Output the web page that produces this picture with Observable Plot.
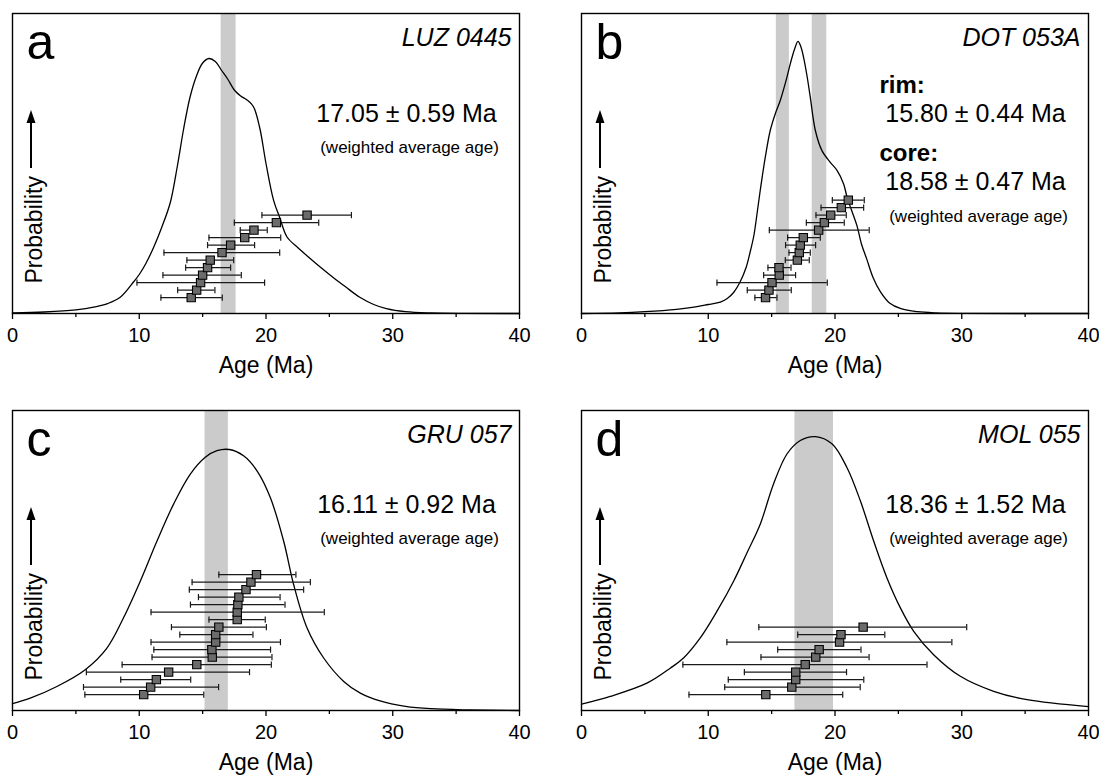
<!DOCTYPE html>
<html><head><meta charset="utf-8">
<script src="https://cdn.jsdelivr.net/npm/d3@7"></script>
<script src="https://cdn.jsdelivr.net/npm/@observablehq/plot@0.6"></script>
<style>
html,body{margin:0;padding:0;background:#fff;overflow:hidden}
#root{position:relative;width:1099px;height:777px;overflow:hidden;background:#fff}
.panel{position:absolute}
</style></head><body><div id="root"></div>
<script>
const FONT = "'Liberation Sans', Arial, Helvetica, sans-serif";

// ---------- axis ticks ----------
const ageTicks = [0, 10, 20, 30, 40];
const minorTicks = [5, 15, 25, 35];
const xLabel = "Age (Ma)";
const yLabel = "Probability";

// ---------- panel a : LUZ 0445 ----------
const aCurveAge = [0,2.5,5,6.5,7.5,8.5,9.55,10,10.5,11.13,11.8,12.45,13,13.5,14,14.5,15,15.5,16,16.5,17,17.5,18,18.5,19,19.5,20,20.6,21.08,21.66,22.5,23.3,24.3,25.3,26.3,27.4,28.5,29.5,31,33,40];
const aCurveP   = [0.002,0.005,0.012,0.022,0.033,0.054,0.105,0.13,0.165,0.22,0.29,0.37,0.49,0.615,0.72,0.79,0.835,0.85,0.84,0.81,0.78,0.745,0.725,0.712,0.69,0.62,0.5,0.377,0.32,0.255,0.22,0.19,0.154,0.12,0.088,0.054,0.03,0.016,0.006,0.002,0];
const aAge = [14.1,14.53,14.84,15.0,15.39,15.6,16.53,17.21,18.32,19.05,20.82,23.24];
const aLo  = [11.71,13.03,9.82,11.87,13.66,13.76,11.95,15.39,15.5,17.97,17.5,19.68];
const aHi  = [16.55,15.97,19.89,18.05,17.21,17.45,21.08,19.1,21.16,20.1,24.16,26.74];
const aBandLo = [16.46];
const aBandHi = [17.64];

// ---------- panel b : DOT 053A ----------
const bCurveAge = [0,3,5,7.5,9,10,10.95,11.5,12,12.5,13,13.3,13.6,13.84,14.1,14.5,14.89,15.29,15.68,16.21,16.47,16.8,17.08,17.3,17.52,17.8,18.05,18.45,18.97,19.63,20.16,20.68,20.95,21.3,21.73,22.1,22.5,23,23.6,24.3,25.2,26.5,28,30,40];
const bCurveP   = [0,0.002,0.006,0.014,0.022,0.03,0.038,0.05,0.07,0.104,0.155,0.204,0.26,0.33,0.41,0.521,0.61,0.666,0.71,0.788,0.832,0.88,0.907,0.89,0.854,0.79,0.721,0.61,0.543,0.504,0.477,0.432,0.388,0.345,0.293,0.23,0.182,0.12,0.071,0.035,0.016,0.006,0.002,0.0005,0];
const bAge = [14.52,14.79,15.03,15.6,15.58,17.03,17.18,17.26,17.5,18.71,19.16,19.66,20.5,21.05];
const bLo  = [13.68,13.08,10.69,14.37,14.71,16.08,16.37,16.1,16.26,14.82,17.74,18.5,18.9,19.79];
const bHi  = [15.42,16.55,19.39,16.89,16.53,17.97,18.05,18.47,18.84,22.7,20.73,20.89,22.26,22.31];
const bBandLo = [15.37, 18.2];
const bBandHi = [16.4, 19.35];

// ---------- panel c : GRU 057 ----------
const cCurveAge = [0,1.4,3.5,5.74,7.45,8.76,10.08,11.4,12.71,14.03,15.21,16.13,17.1,18.23,19.29,20.34,21.39,22.18,23.24,24.55,26.13,27.44,29,31,33,36,40];
const cCurveP   = [0.023,0.041,0.08,0.136,0.208,0.309,0.431,0.565,0.688,0.788,0.844,0.866,0.87,0.849,0.799,0.71,0.565,0.42,0.275,0.175,0.097,0.058,0.032,0.014,0.006,0.002,0];
const cAge = [10.35,10.9,11.35,12.32,14.54,15.76,15.73,16.03,16.03,16.28,17.73,17.73,17.78,17.86,18.42,18.81,19.25];
const cLo  = [5.71,5.6,8.54,5.83,8.65,11.01,11.15,10.93,13.2,12.54,15.5,10.93,14.04,14.67,13.95,14.17,16.28];
const cHi  = [15.09,16.26,14.06,18.7,20.42,20.47,20.36,21.14,18.97,20.03,19.94,24.6,21.5,21.11,22.97,23.5,22.36];
const cBandLo = [15.19];
const cBandHi = [17.03];

// ---------- panel d : MOL 055 ----------
const dCurveAge = [0,2.27,5.16,7,8.05,9.37,10.69,12,13.05,14.1,15.15,16.21,17.26,18.45,19.76,20.94,22,23.05,24.1,25.16,26.21,27.78,29.89,32.52,35.15,40];
const dCurveP   = [0.021,0.047,0.091,0.141,0.175,0.242,0.331,0.431,0.525,0.621,0.755,0.855,0.9,0.913,0.889,0.81,0.699,0.565,0.442,0.342,0.264,0.186,0.114,0.064,0.036,0.013];
const dAge = [14.54,16.59,16.9,16.9,17.65,18.48,18.75,20.36,20.47,22.22];
const dLo  = [8.48,11.3,11.58,12.85,8.0,14.16,15.48,11.47,17.06,13.99];
const dHi  = [20.61,21.99,22.27,20.91,27.26,22.69,22.05,29.22,23.93,30.39];
const dBandLo = [16.84];
const dBandHi = [19.88];

// ---------- texts ----------
const panelLetters = ["a", "b", "c", "d"];
const sampleNames = ["LUZ 0445", "DOT 053A", "GRU 057", "MOL 055"];
const waLabel = "(weighted average age)";

// ---------- layout constants ----------
const ROW_BASE = 0.053, ROW_STEP = 0.025;
const W = 530, MT = 13, ML = 12, MR = 11, MB = 72;

const capSymbol = { draw(ctx, size) { const h = Math.sqrt(size / Math.PI); ctx.moveTo(0, -h); ctx.lineTo(0, h); } };

function arrowMark() {
  return (index, scales, values, dims) => {
    const g = d3.create("svg:g");
    const x = dims.marginLeft + 19, yb = dims.marginTop + 155, yt = dims.marginTop + 97;
    g.append("line").attr("x1", x).attr("x2", x).attr("y1", yb).attr("y2", yt + 8)
      .attr("stroke", "#000").attr("stroke-width", 2);
    g.append("path").attr("d", `M${x},${yt}L${x - 4.5},${yt + 13}L${x + 4.5},${yt + 13}Z`).attr("fill", "#000");
    return g.node();
  };
}

function note(text, anchor, dx, dy, ta, size, extra = {}) {
  return Plot.text([text], {frameAnchor: anchor, dx, dy, textAnchor: ta, lineAnchor: "bottom",
    fontSize: size, fill: "#000", fontFamily: FONT, ...extra});
}

function panel(left, top, cfg) {
  const curve = cfg.curveAge.map((a, i) => ({age: a, p: cfg.curveP[i]}));
  const pts = cfg.age.map((a, i) => ({age: a, lo: cfg.lo[i], hi: cfg.hi[i], row: i}));
  const bands = cfg.bandLo.map((l, i) => ({lo: l, hi: cfg.bandHi[i]}));
  const rowY = d => ROW_BASE + d.row * ROW_STEP;
  const chart = Plot.plot({
    width: W, height: MT + 300 + MB,
    marginLeft: ML, marginRight: MR, marginTop: MT, marginBottom: MB,
    x: {domain: [0, 40]},
    y: {domain: [0, 1], axis: null},
    style: {fontFamily: FONT, background: "transparent", overflow: "visible", color: "#000"},
    marks: [
      Plot.rect(bands, {x1: "lo", x2: "hi", fill: "#cbcbcb"}),
      Plot.line(curve, {x: "age", y: "p", stroke: "#000", strokeWidth: 1.3, curve: "catmull-rom"}),
      Plot.ruleY(pts, {y: rowY, x1: "lo", x2: "hi", stroke: "#1a1a1a", strokeWidth: 1.2}),
      Plot.dot(pts, {x: "lo", y: rowY, symbol: capSymbol, r: 3.1, stroke: "#1a1a1a", strokeWidth: 1.2, fill: "none"}),
      Plot.dot(pts, {x: "hi", y: rowY, symbol: capSymbol, r: 3.1, stroke: "#1a1a1a", strokeWidth: 1.2, fill: "none"}),
      Plot.dot(pts, {x: "age", y: rowY, symbol: "square", r: 4.7, fill: "#6b6b6b", stroke: "#000", strokeWidth: 1.1}),
      Plot.frame({stroke: "#000", strokeWidth: 1.4}),
      Plot.axisX({ticks: ageTicks, tickSize: 6, tickPadding: 8, fontSize: 20, label: null, strokeWidth: 1.3, fontFamily: FONT}),
      Plot.axisX({ticks: minorTicks, tickSize: 4, tickFormat: () => "", label: null, strokeWidth: 1.3}),
      note(xLabel, "bottom", 0, 59, "middle", 23),
      Plot.text([yLabel], {frameAnchor: "bottom-left", dx: 22, dy: -30, rotate: -90, textAnchor: "start",
        lineAnchor: "middle", fontSize: 23, fill: "#000", fontFamily: FONT}),
      arrowMark(),
      note(cfg.letter, "top-left", 14, 45, "start", 50),
      note(cfg.name, "top-right", -8, 32, "end", 25, {fontStyle: "italic"}),
      ...cfg.notes
    ]
  });
  chart.classList.add("panel");
  chart.style.left = left + "px";
  chart.style.top = top + "px";
  document.getElementById("root").appendChild(chart);
}

panel(0, 0, {letter: panelLetters[0], name: sampleNames[0], curveAge: aCurveAge, curveP: aCurveP,
  age: aAge, lo: aLo, hi: aHi, bandLo: aBandLo, bandHi: aBandHi,
  notes: [note("17.05 ± 0.59 Ma", "top-right", -113, 108, "middle", 25),
          note(waLabel, "top-right", -110, 139, "middle", 17)]});

panel(569, 0, {letter: panelLetters[1], name: sampleNames[1], curveAge: bCurveAge, curveP: bCurveP,
  age: bAge, lo: bLo, hi: bHi, bandLo: bBandLo, bandHi: bBandHi,
  notes: [note("rim:", "top-right", -209, 79, "start", 24, {fontWeight: "bold"}),
          note("15.80 ± 0.44 Ma", "top-right", -113, 108, "middle", 25),
          note("core:", "top-right", -209, 147, "start", 24, {fontWeight: "bold"}),
          note("18.58 ± 0.47 Ma", "top-right", -113, 176, "middle", 25),
          note(waLabel, "top-right", -110, 208, "middle", 17)]});

panel(0, 397, {letter: panelLetters[2], name: sampleNames[2], curveAge: cCurveAge, curveP: cCurveP,
  age: cAge, lo: cLo, hi: cHi, bandLo: cBandLo, bandHi: cBandHi,
  notes: [note("16.11 ± 0.92 Ma", "top-right", -113, 102, "middle", 25),
          note(waLabel, "top-right", -110, 133, "middle", 17)]});

panel(569, 397, {letter: panelLetters[3], name: sampleNames[3], curveAge: dCurveAge, curveP: dCurveP,
  age: dAge, lo: dLo, hi: dHi, bandLo: dBandLo, bandHi: dBandHi,
  notes: [note("18.36 ± 1.52 Ma", "top-right", -113, 102, "middle", 25),
          note(waLabel, "top-right", -110, 133, "middle", 17)]});
</script>
</body></html>
